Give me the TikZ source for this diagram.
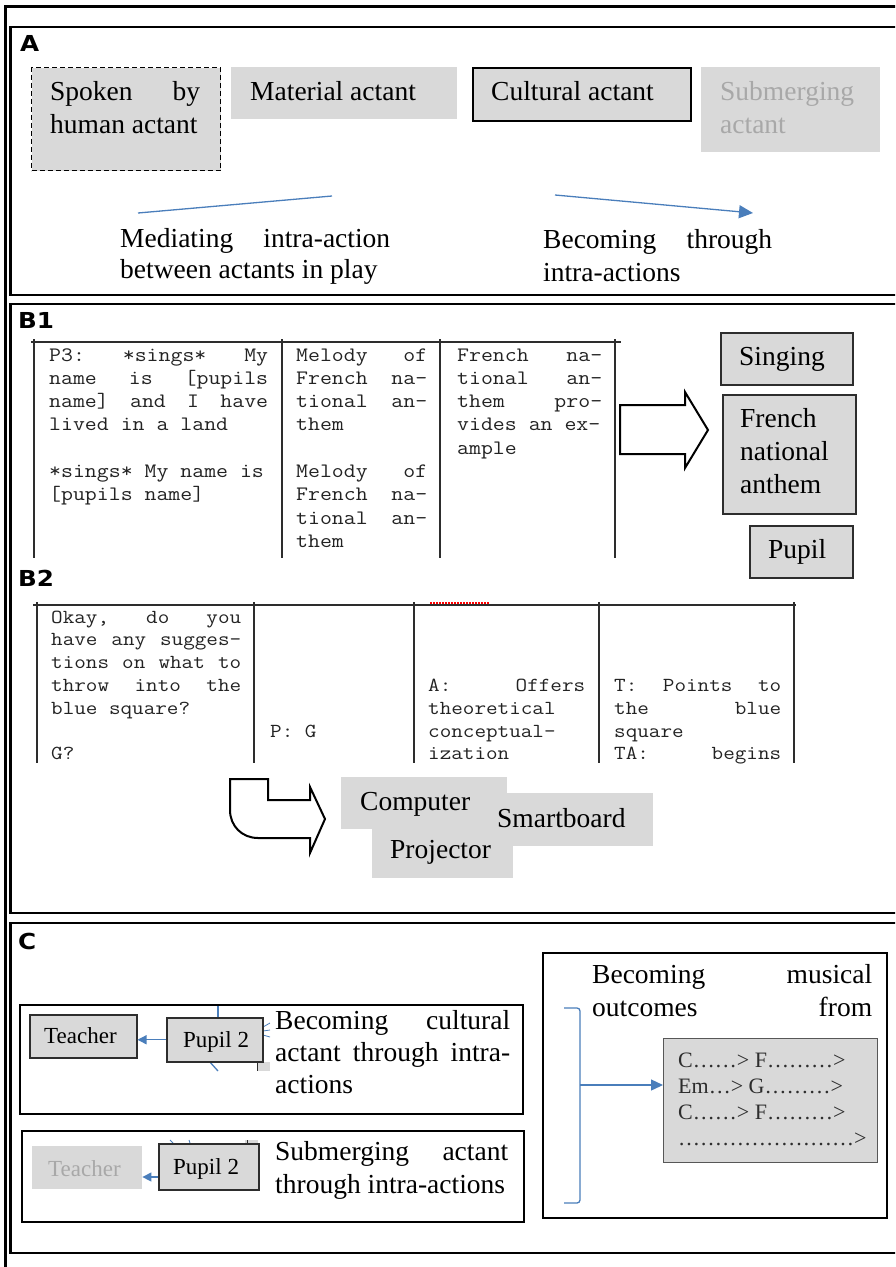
\documentclass[tikz,border=0pt]{standalone}
\usepackage{fontspec}
\setmainfont{Liberation Serif}
\newfontfamily\scriptmono{Latin Modern Mono}[FakeStretch=1.13]
\newfontfamily\tagfont{DejaVu Sans}[FakeStretch=1.12]
\usetikzlibrary{arrows.meta}

\definecolor{boxgray}{RGB}{217,217,217}
\definecolor{fadetext}{RGB}{168,168,168}
\definecolor{linkblue}{RGB}{74,126,187}
\definecolor{rulegray}{RGB}{45,45,45}
\definecolor{monotext}{RGB}{35,35,35}

% one line of text spread out to a given width (pt)
\newcommand{\jline}[2]{\makebox[#1pt][s]{\frenchspacing\spaceskip=\fontdimen2\font plus 1fil\relax #2}}

% text nodes are placed by the baseline of their last line
\tikzset{
  frame/.style={draw=black, line width=2.3pt},
  tag/.style={font=\tagfont\bfseries\fontsize{22}{22}\selectfont, anchor=base west, inner sep=0pt},
  txt/.style={font=\fontsize{27.5}{33}\selectfont, anchor=base west, inner sep=0pt, align=left},
  smalltxt/.style={txt, font=\fontsize{23}{23}\selectfont},
  monoB/.style={font=\scriptmono\fontsize{20.5}{23.3}\selectfont, text=monotext, anchor=base west, inner sep=0pt, align=left},
  monoC/.style={font=\scriptmono\fontsize{19.9}{22.8}\selectfont, text=monotext, anchor=base west, inner sep=0pt, align=left},
  plate/.style={anchor=north west, inner sep=0pt, fill=boxgray, draw=none},
  framed/.style={plate, draw=rulegray, line width=1.5pt},
  tabrule/.style={draw=rulegray, line width=1.6pt},
  link/.style={draw=linkblue, line width=1.3pt},
  linkarrow/.style={link, -{Triangle[length=14pt,width=13pt]}},
  shortarrow/.style={link, -{Triangle[length=9pt,width=9pt]}},
  bigarrow/.style={draw=black, fill=white, line width=2pt, line join=miter},
}

\begin{document}
\begin{tikzpicture}[x=1pt,y=-1pt]
\useasboundingbox (0,0) rectangle (895,1267);
\clip (0,0) rectangle (895,1267);
\fill[white] (0,0) rectangle (895,1267);

% outer border and the three panels
\draw[line width=3pt, line join=miter] (5.5,1290) -- (5.5,6) -- (920,6);
\draw[frame] (10.5,27) rectangle (920,295);
\draw[frame] (10.5,304) rectangle (920,913);
\draw[frame] (10.5,923) rectangle (920,1253);

% ---------------- panel A ----------------
\node[tag] (tagA) at (20,51) {A};
\node[plate, draw=black, line width=1.3pt, dash pattern=on 5pt off 3pt, minimum width=189pt, minimum height=103pt] (spoken) at (31,67) {};
\node[txt] (spokenT) at (50,133) {\jline{150}{Spoken by}\\human actant};
\node[plate, minimum width=226pt, minimum height=52pt] (material) at (231,67) {};
\node[txt] (materialT) at (250,100) {Material actant};
\node[plate, draw=black, line width=1.8pt, minimum width=218pt, minimum height=53pt] (cultural) at (472,67) {};
\node[txt] (culturalT) at (491,100) {Cultural actant};
\node[plate, minimum width=179pt, minimum height=85pt] (submerging) at (701,67) {};
\node[txt, text=fadetext] (submergingT) at (720,133) {Submerging\\actant};

\coordinate (medA) at (138,213);
\coordinate (medB) at (332,196);
\draw[link] (medA) -- (medB);
\node[txt, font=\fontsize{27.5}{31.5}\selectfont] (mediating) at (120,278.5) {\jline{270}{Mediating intra-action}\\between actants in play};

\coordinate (becA) at (555,195);
\coordinate (becB) at (753,213);
\draw[linkarrow] (becA) -- (becB);
\node[txt] (becoming) at (543,281) {\jline{229}{Becoming through}\\intra-actions};

% ---------------- panel B1 ----------------
\node[tag] (tagB1) at (18,328) {B1};
\draw[tabrule] (31,342) -- (621,342);
\foreach \x in {34,282,440,615} \draw[tabrule] (\x,339) -- (\x,558);
\node[monoB] (b1c1) at (49,500.8) {\jline{219}{P3: *sings* My}\\\jline{219}{name is [pupils}\\\jline{219}{name] and I have}\\lived in a land\\\mbox{}\\\mbox{*sings* My name is}\\\mbox{[pupils name]}};
\node[monoB] (b1c2) at (296,547.4) {\jline{131}{Melody of}\\\jline{131}{French na-}\\\jline{131}{tional an-}\\them\\\mbox{}\\\jline{131}{Melody of}\\\jline{131}{French na-}\\\jline{131}{tional an-}\\them};
\node[monoB] (b1c3) at (457,454.2) {\jline{145}{French na-}\\\jline{145}{tional an-}\\\jline{145}{them pro-}\\vides an ex-\\ample};

\draw[bigarrow] (620,405) -- (685,405) -- (685,392) -- (708,430) -- (685,468) -- (685,454) -- (620,454) -- cycle;

\node[framed, minimum width=132pt, minimum height=52pt] (singing) at (720,332) {};
\node[txt] (singingT) at (739,365) {Singing};
\node[framed, minimum width=133pt, minimum height=119pt] (anthem) at (722,394) {};
\node[txt] (anthemT) at (740,493) {French\\national\\anthem};
\node[framed, minimum width=103pt, minimum height=52pt] (pupil) at (749,525) {};
\node[txt] (pupilT) at (768,558) {Pupil};

% ---------------- panel B2 ----------------
\node[tag] (tagB2) at (18,586) {B2};
\draw[tabrule] (33,605) -- (796,605);
\foreach \x in {37,254,414,599,794} \draw[tabrule] (\x,602) -- (\x,763);
\draw[red, line width=1.2pt, dash pattern=on 1.5pt off 1.5pt] (430,603) -- (490,603);
\node[monoC] (b2c1) at (51,759.8) {\jline{190}{Okay, do you}\\\jline{190}{have any sugges-}\\\jline{190}{tions on what to}\\\jline{190}{throw into the}\\blue square?\\\mbox{}\\G?};
\node[monoC] (b2c2) at (270,737) {P: G};
\node[monoC] (b2c3) at (428,759.8) {\jline{157}{A: Offers}\\theoretical\\conceptual-\\ization};
\node[monoC] (b2c4) at (614,759.8) {\jline{167}{T: Points to}\\\jline{167}{the blue}\\square\\\jline{167}{TA: begins}};

\draw[bigarrow] (230,779) -- (268,779) -- (268,800) -- (310,800) -- (310,787) -- (325,819) -- (310,853) -- (310,838) -- (258,838) .. controls (242,838) and (230,826) .. (230,810) -- cycle;

\node[plate, minimum width=166pt, minimum height=52pt] (computer) at (341,777) {};
\node[plate, minimum width=173pt, minimum height=53pt] (smartboard) at (480,793) {};
\node[plate, minimum width=141pt, minimum height=52pt] (projector) at (372,826) {};
\node[txt] (computerT) at (360,810) {Computer};
\node[txt] (smartboardT) at (497,827) {Smartboard};
\node[txt] (projectorT) at (390,858) {Projector};

% ---------------- panel C ----------------
\node[tag] (tagC) at (18,949) {C};

% cultural actant row
\draw[frame] (20,1005) rectangle (523,1114);
\draw[link] (218,1006) -- (218,1017);
\draw[link] (209,1061) -- (218,1071);
\draw[link, line width=0.8pt] (263,1027) -- (270,1023);
\draw[link, line width=0.8pt] (263,1031) -- (270,1030);
\draw[link, line width=0.8pt] (263,1035) -- (270,1037);
\fill[boxgray] (257,1062) rectangle (270,1071);
\draw[rulegray, line width=1pt] (257.5,1062) -- (257.5,1071);
\node[framed, minimum width=107pt, minimum height=43pt] (teacher1) at (29,1014) {};
\node[smalltxt] (teacher1T) at (44,1043) {Teacher};
\node[framed, minimum width=96pt, minimum height=44pt] (pupil1) at (166,1017) {};
\node[smalltxt] (pupil1T) at (183,1047) {Pupil 2};
\draw[shortarrow] (pupil1.west) -- (teacher1.east |- pupil1.west);
\node[txt, font=\fontsize{27.5}{32}\selectfont] (cultT) at (275,1093) {\jline{235}{Becoming cultural}\\\jline{235}{actant through intra-}\\actions};

% submerging actant row
\draw[frame] (22,1131) rectangle (524,1222);
\draw[link, line width=0.8pt] (170,1140) -- (173,1143);
\draw[link, line width=0.8pt] (189,1140) -- (190,1143);
\fill[boxgray] (245,1140) rectangle (258,1158);
\draw[rulegray, line width=1pt] (247.5,1140) -- (247.5,1148);
\node[plate, minimum width=110pt, minimum height=43pt] (teacher2) at (32,1146) {};
\node[smalltxt, text=fadetext] (teacher2T) at (48,1176) {Teacher};
\node[framed, minimum width=100pt, minimum height=46pt] (pupil2) at (158,1143) {};
\node[smalltxt] (pupil2T) at (173,1174) {Pupil 2};
\coordinate (p2out) at (158,1177);
\draw[shortarrow] (p2out) -- (teacher2.east |- p2out);
\node[txt] (submT) at (275,1193) {\jline{233}{Submerging actant}\\through intra-actions};

% musical outcomes
\draw[frame] (543,953) rectangle (887,1218);
\node[txt] (musicalT) at (592,1016) {\jline{280}{Becoming musical}\\\jline{280}{outcomes from}};
\node[framed, draw=rulegray!80, line width=1.2pt, minimum width=214pt, minimum height=124pt] (chords) at (663,1038) {};
\node[txt, font=\fontsize{22}{26.3}\selectfont, text=rulegray] (chordsT) at (678,1145.9) {C……> F………>\\Em…> G………>\\C……> F………>\\……………………>};
\coordinate (brTop) at (564,1008);
\coordinate (brBot) at (564,1203);
\coordinate (brMid) at (580,1085);
\draw[link, rounded corners=3pt] (brTop) -- (580,1008) -- (580,1203) -- (brBot);
\draw[link, -{Triangle[length=12pt,width=11pt]}] (brMid) -- (chords.west |- brMid);
\end{tikzpicture}
\end{document}
